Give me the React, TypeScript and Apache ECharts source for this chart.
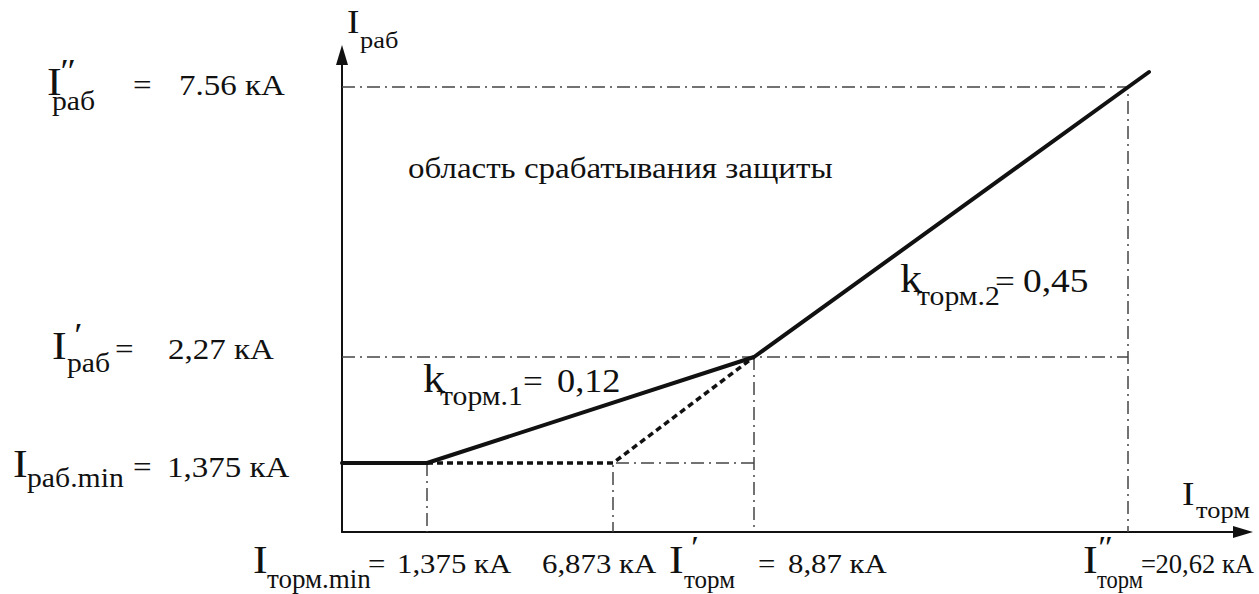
import React, { useEffect, useRef } from "react";
import * as echarts from "echarts";

// Values of the differential protection characteristic (кА)
const brakeCurrents = [1.375, 6.873, 8.87, 20.62]; // I_торм.min, break, I'_торм, I''_торм
const operateCurrents = [1.375, 2.27, 7.56]; // I_раб.min, I'_раб, I''_раб
const slopes = [0.12, 0.45]; // k_торм.1, k_торм.2
// Schematic (not to scale) positions of those values along the drawn axes
const brakeAxisPos = [8.5, 27.1, 41.2, 78.6];
const operateAxisPos = [6.9, 17.5, 44.5];
const curveEnd = [80.7, 46.0];
const regionText = "область срабатывания защиты";

const FONT = "Liberation Serif, DejaVu Serif, serif";
const INK = "#111";

const comma = (v: number) => String(v).replace(".", ",");

function txt(text: string, x: number, base: number, size: number, opts: any = {}) {
  return {
    type: "text",
    x,
    y: base - 0.3375 * size,
    scaleX: opts.sx ?? 1.1,
    silent: true,
    z: 100,
    style: {
      text,
      fontSize: size,
      fontFamily: FONT,
      fontStyle: opts.italic ? "italic" : "normal",
      fill: INK,
      align: opts.align ?? "left",
      verticalAlign: "middle",
    },
  };
}

export default function App() {
  const ref = useRef<HTMLDivElement>(null);
  useEffect(() => {
    if (!ref.current) return;
    const chart = echarts.init(ref.current, undefined, { renderer: "svg" });
    const bp = brakeAxisPos;
    const op = operateAxisPos;
    const guide = (data: number[][]) => ({
      type: "line",
      data,
      symbol: "none",
      silent: true,
      z: 2,
      lineStyle: { color: "#444", width: 1.5, type: [13, 5, 2, 5] },
    });
    const M = 30; // main size (left labels)
    const B = 40; // big I / k
    const S = 27; // subscript
    const BM = 28; // bottom main size
    const BS = 25; // bottom subscript
    chart.setOption({
      animation: false,
      grid: { left: 342, right: 16, top: 55, bottom: 62 },
      xAxis: {
        type: "value",
        min: 0,
        max: 90.1,
        axisLine: {
          show: true,
          onZero: true,
          symbol: ["none", "triangle"],
          symbolSize: [12, 20],
          lineStyle: { color: INK, width: 2 },
        },
        axisTick: { show: false },
        axisLabel: { show: false },
        splitLine: { show: false },
      },
      yAxis: {
        type: "value",
        min: 0,
        max: 47.7,
        axisLine: {
          show: true,
          onZero: true,
          symbol: ["none", "triangle"],
          symbolSize: [12, 20],
          lineStyle: { color: INK, width: 2 },
        },
        axisTick: { show: false },
        axisLabel: { show: false },
        splitLine: { show: false },
      },
      series: [
        guide([[0, op[2]], [bp[3], op[2]], [bp[3], 0]]),
        guide([[0, op[1]], [bp[3], op[1]]]),
        guide([[bp[2], op[1]], [bp[2], 0]]),
        guide([[bp[2], op[0]], [bp[1], op[0]], [bp[1], 0]]),
        guide([[bp[0], op[0]], [bp[0], 0]]),
        {
          type: "line",
          data: [[bp[0], op[0]], [bp[1], op[0]], [bp[2], op[1]]],
          symbol: "none",
          silent: true,
          z: 3,
          lineStyle: { color: INK, width: 3.5, type: [6, 4] },
        },
        {
          type: "line",
          data: [[0, op[0]], [bp[0], op[0]], [bp[2], op[1]], curveEnd],
          symbol: "none",
          silent: true,
          z: 4,
          lineStyle: { color: INK, width: 4, cap: "round", join: "round" },
        },
      ],
      graphic: [
        // y axis title
        txt("I", 347, 33, 34),
        txt("раб", 360, 48, 24),
        // x axis title
        txt("I", 1182, 505, 34),
        txt("торм", 1196, 518, 24),
        // I''_раб
        txt("I", 47, 95, B),
        txt("″", 58, 82, 34, { italic: true }),
        txt("раб", 52, 110, S),
        txt("=", 133, 95, M),
        txt(`${operateCurrents[2]} кА`, 179, 95, M),
        // I'_раб
        txt("I", 52, 359, B),
        txt("′", 72, 346, 34, { italic: true }),
        txt("раб", 67, 372, S),
        txt("=", 115, 359, M),
        txt(`${comma(operateCurrents[1])} кА`, 168, 359, M),
        // I_раб.min
        txt("I", 13, 477, B),
        txt("раб.min", 27, 487, S),
        txt("=", 133, 477, M),
        txt(`${comma(operateCurrents[0])} кА`, 167, 477, M),
        // bottom labels
        txt("I", 253, 573, B),
        txt("торм.min", 267, 588, S, { sx: 1.0 }),
        txt("=", 368, 573, BM),
        txt(`${comma(brakeCurrents[0])} кА`, 397, 573, BM),
        txt(`${comma(brakeCurrents[1])} кА`, 542, 573, BM),
        txt("I", 669, 573, B),
        txt("′", 689, 558, 32, { italic: true }),
        txt("торм", 684, 588, BS, { sx: 1.0 }),
        txt("=", 758, 573, BM),
        txt(`${comma(brakeCurrents[2])} кА`, 788, 573, BM),
        txt("I", 1083, 573, B),
        txt("″", 1096, 558, 32, { italic: true }),
        txt("торм", 1097, 588, BS, { sx: 0.9 }),
        txt("=", 1141, 573, BM, { sx: 0.95 }),
        txt(`${comma(brakeCurrents[3])} кА`, 1254, 573, BM, { sx: 0.95, align: "right" }),
        // slopes
        txt("k", 423, 392, B),
        txt("торм.1", 440, 405, S),
        txt("=", 523, 392, 32),
        txt(comma(slopes[0]), 557, 392, 33),
        txt("k", 900, 292, B),
        txt("торм.2", 917, 305, S),
        txt("=", 995, 292, 32),
        txt(comma(slopes[1]), 1023, 292, 34),
        // region text
        txt(regionText, 408, 178, 30),
      ],
    });
    return () => chart.dispose();
  }, []);
  return (
    <div
      ref={ref}
      style={{ position: "absolute", left: 0, top: 0, width: 1259, height: 594, background: "#fff" }}
    />
  );
}
